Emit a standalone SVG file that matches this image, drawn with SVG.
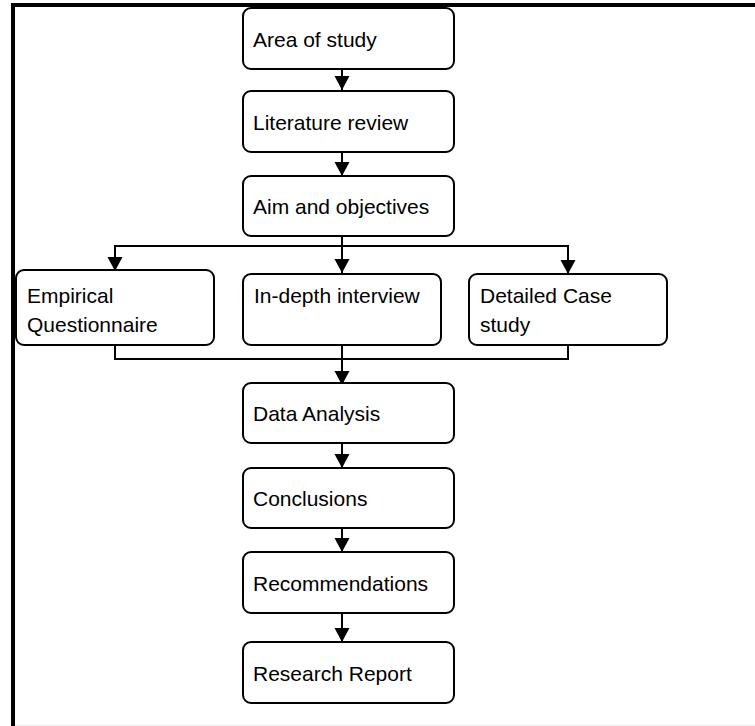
<svg xmlns="http://www.w3.org/2000/svg" width="755" height="726" viewBox="0 0 755 726">
  <style>
    .box { fill: #ffffff; stroke: #000000; stroke-width: 2; }
    .lbl { font-family: "Liberation Sans", Arial, sans-serif; font-size: 21px; fill: #000000; }
    .wire { fill: none; stroke: #000000; stroke-width: 2; }
    .frame { fill: #000000; }
  </style>
  <defs>
    <marker id="arrow" markerUnits="userSpaceOnUse" markerWidth="16" markerHeight="16" refX="14" refY="7.5" orient="auto" overflow="visible">
      <path d="M0,0 L14,7.5 L0,15 Z" fill="#000000"/>
    </marker>
  </defs>

  <!-- page background and frame -->
  <rect x="0" y="0" width="755" height="726" fill="#ffffff"/>
  <rect class="frame" x="11" y="3" width="744" height="4"/>
  <rect class="frame" x="11" y="3" width="4" height="723"/>
  <rect x="15" y="724.5" width="740" height="1.5" fill="#eeeeee"/>

  <!-- connectors -->
  <g id="connectors">
    <line class="wire" x1="342" y1="69" x2="342" y2="90" marker-end="url(#arrow)"/>
    <line class="wire" x1="342" y1="152" x2="342" y2="176" marker-end="url(#arrow)"/>
    <line class="wire" x1="342" y1="236" x2="342" y2="273" marker-end="url(#arrow)"/>
    <polyline class="wire" points="342,246 115,246 115,271" marker-end="url(#arrow)"/>
    <polyline class="wire" points="342,246 568,246 568,274" marker-end="url(#arrow)"/>
    <polyline class="wire" points="115,345 115,359 568,359 568,345"/>
    <line class="wire" x1="342" y1="345" x2="342" y2="385" marker-end="url(#arrow)"/>
    <line class="wire" x1="342" y1="443" x2="342" y2="468" marker-end="url(#arrow)"/>
    <line class="wire" x1="342" y1="528" x2="342" y2="552" marker-end="url(#arrow)"/>
    <line class="wire" x1="342" y1="613" x2="342" y2="642" marker-end="url(#arrow)"/>
  </g>

  <!-- nodes -->
  <g id="area-of-study">
    <rect class="box" x="243" y="8" width="211" height="61" rx="8"/>
    <text class="lbl" x="253" y="47">Area of study</text>
  </g>
  <g id="literature-review">
    <rect class="box" x="243" y="91" width="211" height="61" rx="8"/>
    <text class="lbl" x="253" y="130">Literature review</text>
  </g>
  <g id="aim-and-objectives">
    <rect class="box" x="243" y="176" width="211" height="60" rx="8"/>
    <text class="lbl" x="253" y="214">Aim and objectives</text>
  </g>
  <g id="empirical-questionnaire">
    <rect class="box" x="16" y="270" width="198" height="75" rx="8"/>
    <text class="lbl" x="27" y="303">Empirical</text>
    <text class="lbl" x="27" y="332">Questionnaire</text>
  </g>
  <g id="in-depth-interview">
    <rect class="box" x="243" y="274" width="198" height="71" rx="8"/>
    <text class="lbl" x="254" y="303">In-depth interview</text>
  </g>
  <g id="detailed-case-study">
    <rect class="box" x="469" y="274" width="198" height="71" rx="8"/>
    <text class="lbl" x="480" y="303">Detailed Case</text>
    <text class="lbl" x="480" y="332">study</text>
  </g>
  <g id="data-analysis">
    <rect class="box" x="243" y="383" width="211" height="60" rx="8"/>
    <text class="lbl" x="253" y="421">Data Analysis</text>
  </g>
  <g id="conclusions">
    <rect class="box" x="243" y="468" width="211" height="60" rx="8"/>
    <text class="lbl" x="253" y="506">Conclusions</text>
  </g>
  <g id="recommendations">
    <rect class="box" x="243" y="552" width="211" height="61" rx="8"/>
    <text class="lbl" x="253" y="591">Recommendations</text>
  </g>
  <g id="research-report">
    <rect class="box" x="243" y="642" width="211" height="61" rx="8"/>
    <text class="lbl" x="253" y="681">Research Report</text>
  </g>
</svg>
